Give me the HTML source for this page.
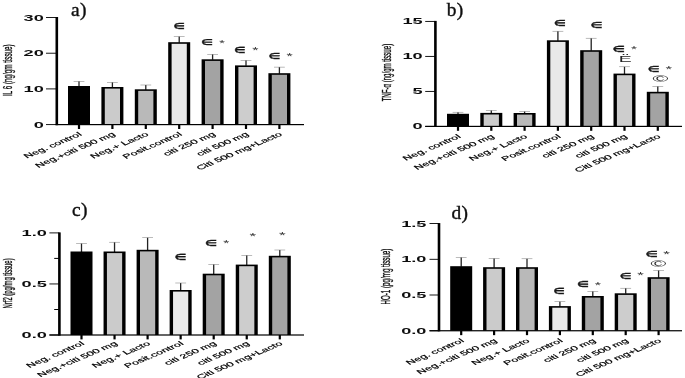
<!DOCTYPE html>
<html lang="en"><head><meta charset="utf-8"><title>Figure</title>
<style>html,body{margin:0;padding:0;background:#fff}svg{display:block}.tk{font-family:"Liberation Sans", "DejaVu Sans", sans-serif;font-weight:700;font-size:8.2px;fill:#111}.xl{font-family:"Liberation Sans", "DejaVu Sans", sans-serif;font-size:7px;fill:#000;stroke:#000;stroke-width:0.2px}.yt{font-family:"Liberation Sans", "DejaVu Sans", sans-serif;font-size:6.2px;fill:#111;stroke:#111;stroke-width:0.18px}.pt{font-family:"Liberation Serif", serif;font-size:19.4px;fill:#111;stroke:#111;stroke-width:0.4px;letter-spacing:0.3px}.se{font-family:"DejaVu Sans", "Liberation Sans", sans-serif;font-weight:700;fill:#1a1a1a;stroke:#1a1a1a;stroke-width:0.3px}.sa{font-family:"Liberation Sans", "DejaVu Sans", sans-serif;fill:#333}.sc{font-family:"Liberation Sans", "DejaVu Sans", sans-serif;fill:#222}</style></head><body>
<svg width="685" height="378" viewBox="0 0 685 378">
<defs><filter id="soft" x="0" y="0" width="685" height="378" filterUnits="userSpaceOnUse"><feGaussianBlur stdDeviation="0.4"/></filter></defs>
<rect width="685" height="378" fill="#fff"/>
<g filter="url(#soft)">
<g>
<text class="pt" x="71.0" y="16.1">a)</text>
<rect x="78.35" y="81.30" width="1.3" height="5.20" fill="#222"/>
<rect x="73.60" y="81.05" width="10.8" height="0.5" fill="#777"/>
<rect x="68.00" y="86.00" width="22.00" height="38.60" fill="#000"/>
<rect x="77.90" y="124.60" width="2.2" height="4.4" fill="#000"/>
<rect x="111.75" y="82.30" width="1.3" height="5.20" fill="#222"/>
<rect x="107.00" y="82.05" width="10.8" height="0.5" fill="#777"/>
<rect x="101.40" y="87.00" width="22.00" height="37.60" fill="#000"/>
<rect x="104.80" y="88.60" width="15.20" height="36.00" fill="#cbcbcb"/>
<rect x="111.30" y="124.60" width="2.2" height="4.4" fill="#000"/>
<rect x="145.15" y="85.00" width="1.3" height="4.80" fill="#222"/>
<rect x="140.40" y="84.75" width="10.8" height="0.5" fill="#777"/>
<rect x="134.80" y="89.30" width="22.00" height="35.30" fill="#000"/>
<rect x="138.20" y="90.90" width="15.20" height="33.70" fill="#b9b9b9"/>
<rect x="144.70" y="124.60" width="2.2" height="4.4" fill="#000"/>
<rect x="178.55" y="36.50" width="1.3" height="6.20" fill="#222"/>
<rect x="173.80" y="36.25" width="10.8" height="0.5" fill="#777"/>
<rect x="168.20" y="42.20" width="22.00" height="82.40" fill="#000"/>
<rect x="171.60" y="43.80" width="15.20" height="80.80" fill="#e9e9e9"/>
<rect x="178.10" y="124.60" width="2.2" height="4.4" fill="#000"/>
<rect x="211.95" y="54.30" width="1.3" height="5.50" fill="#222"/>
<rect x="207.20" y="54.05" width="10.8" height="0.5" fill="#777"/>
<rect x="201.60" y="59.30" width="22.00" height="65.30" fill="#000"/>
<rect x="205.00" y="60.90" width="15.20" height="63.70" fill="#a3a3a3"/>
<rect x="211.50" y="124.60" width="2.2" height="4.4" fill="#000"/>
<rect x="245.35" y="60.30" width="1.3" height="5.60" fill="#222"/>
<rect x="240.60" y="60.05" width="10.8" height="0.5" fill="#777"/>
<rect x="235.00" y="65.40" width="22.00" height="59.20" fill="#000"/>
<rect x="238.40" y="67.00" width="15.20" height="57.60" fill="#cdcdcd"/>
<rect x="244.90" y="124.60" width="2.2" height="4.4" fill="#000"/>
<rect x="278.75" y="67.10" width="1.3" height="6.60" fill="#222"/>
<rect x="274.00" y="66.85" width="10.8" height="0.5" fill="#777"/>
<rect x="268.40" y="73.20" width="22.00" height="51.40" fill="#000"/>
<rect x="271.80" y="74.80" width="15.20" height="49.80" fill="#a3a3a3"/>
<rect x="278.30" y="124.60" width="2.2" height="4.4" fill="#000"/>
<rect x="55.50" y="17.00" width="2.6" height="108.20" fill="#000"/>
<rect x="55.50" y="124.00" width="248.50" height="1.2" fill="#000"/>
<rect x="46.00" y="124.15" width="10.80" height="0.9" fill="#000"/>
<text class="tk" text-anchor="end" transform="translate(43.80 125.00) scale(2.22 1)" y="2.75">0</text>
<rect x="46.00" y="88.45" width="10.80" height="0.9" fill="#000"/>
<text class="tk" text-anchor="end" transform="translate(43.80 89.30) scale(2.22 1)" y="2.75">10</text>
<rect x="46.00" y="52.75" width="10.80" height="0.9" fill="#000"/>
<text class="tk" text-anchor="end" transform="translate(43.80 53.60) scale(2.22 1)" y="2.75">20</text>
<rect x="46.00" y="17.05" width="10.80" height="0.9" fill="#000"/>
<text class="tk" text-anchor="end" transform="translate(43.80 17.90) scale(2.22 1)" y="2.75">30</text>
<text class="yt" text-anchor="middle" transform="translate(7.60 70.20) scale(2.0 1) rotate(-90)" textLength="51.5" lengthAdjust="spacingAndGlyphs" y="2.2">IL 6 (ng/gm tissue)</text>
<text class="xl" text-anchor="end" transform="matrix(1.474 -0.623 0.913 0.688 82.60 135.10)">Neg. control</text>
<text class="xl" text-anchor="end" transform="matrix(1.474 -0.623 0.913 0.688 116.00 135.10)">Neg.+citi 500 mg</text>
<text class="xl" text-anchor="end" transform="matrix(1.474 -0.623 0.913 0.688 149.40 135.10)">Neg.+ Lacto</text>
<text class="xl" text-anchor="end" transform="matrix(1.474 -0.623 0.913 0.688 182.80 135.10)">Posit.control</text>
<text class="xl" text-anchor="end" transform="matrix(1.474 -0.623 0.913 0.688 216.20 135.10)">citi 250 mg</text>
<text class="xl" text-anchor="end" transform="matrix(1.474 -0.623 0.913 0.688 249.60 135.10)">citi 500 mg</text>
<text class="xl" text-anchor="end" transform="matrix(1.474 -0.623 0.913 0.688 283.00 135.10)">Citi 500 mg+Lacto</text>
<text class="se" font-size="8.33" transform="translate(173.17 28.88) scale(1.534 1)">∈</text>
<text class="se" font-size="7.92" transform="translate(200.84 45.28) scale(1.664 1)">∈</text>
<text class="sa" font-size="9.97" transform="translate(219.37 45.56) scale(1.457 1)">*</text>
<text class="se" font-size="8.74" transform="translate(234.27 53.48) scale(1.462 1)">∈</text>
<text class="sa" font-size="8.83" transform="translate(252.24 53.38) scale(1.834 1)">*</text>
<text class="se" font-size="8.47" transform="translate(268.54 59.38) scale(1.556 1)">∈</text>
<text class="sa" font-size="9.12" transform="translate(286.44 59.37) scale(1.777 1)">*</text>
</g>
<g>
<text class="pt" x="446.8" y="16.2">b)</text>
<rect x="457.35" y="112.20" width="1.3" height="2.10" fill="#222"/>
<rect x="452.60" y="111.95" width="10.8" height="0.5" fill="#777"/>
<rect x="447.00" y="113.80" width="22.00" height="12.60" fill="#000"/>
<rect x="456.90" y="126.40" width="2.2" height="4.4" fill="#000"/>
<rect x="490.65" y="110.40" width="1.3" height="3.00" fill="#222"/>
<rect x="485.90" y="110.15" width="10.8" height="0.5" fill="#777"/>
<rect x="480.30" y="112.90" width="22.00" height="13.50" fill="#000"/>
<rect x="483.70" y="114.50" width="15.20" height="11.90" fill="#cbcbcb"/>
<rect x="490.20" y="126.40" width="2.2" height="4.4" fill="#000"/>
<rect x="523.95" y="111.50" width="1.3" height="2.00" fill="#222"/>
<rect x="519.20" y="111.25" width="10.8" height="0.5" fill="#777"/>
<rect x="513.60" y="113.00" width="22.00" height="13.40" fill="#000"/>
<rect x="517.00" y="114.60" width="15.20" height="11.80" fill="#b9b9b9"/>
<rect x="523.50" y="126.40" width="2.2" height="4.4" fill="#000"/>
<rect x="557.25" y="31.20" width="1.3" height="9.60" fill="#222"/>
<rect x="552.50" y="30.95" width="10.8" height="0.5" fill="#777"/>
<rect x="546.90" y="40.30" width="22.00" height="86.10" fill="#000"/>
<rect x="550.30" y="41.90" width="15.20" height="84.50" fill="#e9e9e9"/>
<rect x="556.80" y="126.40" width="2.2" height="4.4" fill="#000"/>
<rect x="590.55" y="38.20" width="1.3" height="12.50" fill="#222"/>
<rect x="585.80" y="37.95" width="10.8" height="0.5" fill="#777"/>
<rect x="580.20" y="50.20" width="22.00" height="76.20" fill="#000"/>
<rect x="583.60" y="51.80" width="15.20" height="74.60" fill="#a3a3a3"/>
<rect x="590.10" y="126.40" width="2.2" height="4.4" fill="#000"/>
<rect x="623.85" y="66.80" width="1.3" height="7.30" fill="#222"/>
<rect x="619.10" y="66.55" width="10.8" height="0.5" fill="#777"/>
<rect x="613.50" y="73.60" width="22.00" height="52.80" fill="#000"/>
<rect x="616.90" y="75.20" width="15.20" height="51.20" fill="#cdcdcd"/>
<rect x="623.40" y="126.40" width="2.2" height="4.4" fill="#000"/>
<rect x="657.15" y="86.40" width="1.3" height="5.90" fill="#222"/>
<rect x="652.40" y="86.15" width="10.8" height="0.5" fill="#777"/>
<rect x="646.80" y="91.80" width="22.00" height="34.60" fill="#000"/>
<rect x="650.20" y="93.40" width="15.20" height="33.00" fill="#a3a3a3"/>
<rect x="656.70" y="126.40" width="2.2" height="4.4" fill="#000"/>
<rect x="434.10" y="20.90" width="2.6" height="106.10" fill="#000"/>
<rect x="425.20" y="125.80" width="256.80" height="1.2" fill="#000"/>
<rect x="425.20" y="125.95" width="10.20" height="0.9" fill="#000"/>
<text class="tk" text-anchor="end" transform="translate(422.70 126.70) scale(2.22 1)" y="2.75">0</text>
<rect x="425.20" y="90.95" width="10.20" height="0.9" fill="#000"/>
<text class="tk" text-anchor="end" transform="translate(422.70 91.70) scale(2.22 1)" y="2.75">5</text>
<rect x="425.20" y="55.95" width="10.20" height="0.9" fill="#000"/>
<text class="tk" text-anchor="end" transform="translate(422.70 56.70) scale(2.22 1)" y="2.75">10</text>
<rect x="425.20" y="20.95" width="10.20" height="0.9" fill="#000"/>
<text class="tk" text-anchor="end" transform="translate(422.70 21.70) scale(2.22 1)" y="2.75">15</text>
<text class="yt" text-anchor="middle" transform="translate(386.30 72.60) scale(2.0 1) rotate(-90)" textLength="57.5" lengthAdjust="spacingAndGlyphs" y="2.2">TNF-α (ng/gm tissue)</text>
<text class="xl" text-anchor="end" transform="matrix(1.474 -0.623 0.913 0.688 461.60 137.30)">Neg. control</text>
<text class="xl" text-anchor="end" transform="matrix(1.474 -0.623 0.913 0.688 494.90 137.30)">Neg.+citi 500 mg</text>
<text class="xl" text-anchor="end" transform="matrix(1.474 -0.623 0.913 0.688 528.20 137.30)">Neg.+ Lacto</text>
<text class="xl" text-anchor="end" transform="matrix(1.474 -0.623 0.913 0.688 561.50 137.30)">Posit.control</text>
<text class="xl" text-anchor="end" transform="matrix(1.474 -0.623 0.913 0.688 594.80 137.30)">citi 250 mg</text>
<text class="xl" text-anchor="end" transform="matrix(1.474 -0.623 0.913 0.688 628.10 137.30)">citi 500 mg</text>
<text class="xl" text-anchor="end" transform="matrix(1.474 -0.623 0.913 0.688 661.40 137.30)">Citi 500 mg+Lacto</text>
<text class="se" font-size="8.33" transform="translate(553.63 26.18) scale(1.598 1)">∈</text>
<text class="se" font-size="8.47" transform="translate(590.43 28.28) scale(1.572 1)">∈</text>
<text class="se" font-size="8.74" transform="translate(612.70 52.38) scale(1.569 1)">∈</text>
<text class="sa" font-size="9.40" transform="translate(631.05 52.27) scale(1.634 1)">*</text>
<text class="sc" font-size="9.80" transform="translate(618.81 62.20) scale(1.977 1)">Ë</text>
<text class="se" font-size="8.61" transform="translate(647.84 71.58) scale(1.532 1)">∈</text>
<text class="sa" font-size="9.40" transform="translate(665.43 71.57) scale(1.812 1)">*</text>
<text class="sc" font-size="9.49" transform="translate(652.38 81.92) scale(2.269 1)">©</text>
</g>
<g>
<text class="pt" x="72.0" y="215.6">c)</text>
<rect x="80.85" y="243.50" width="1.3" height="8.50" fill="#222"/>
<rect x="76.10" y="243.25" width="10.8" height="0.5" fill="#777"/>
<rect x="70.50" y="251.50" width="22.00" height="83.50" fill="#000"/>
<rect x="80.40" y="335.00" width="2.2" height="4.4" fill="#000"/>
<rect x="113.90" y="242.20" width="1.3" height="9.80" fill="#222"/>
<rect x="109.15" y="241.95" width="10.8" height="0.5" fill="#777"/>
<rect x="103.55" y="251.50" width="22.00" height="83.50" fill="#000"/>
<rect x="106.95" y="253.10" width="15.20" height="81.90" fill="#cbcbcb"/>
<rect x="113.45" y="335.00" width="2.2" height="4.4" fill="#000"/>
<rect x="146.95" y="237.70" width="1.3" height="12.60" fill="#222"/>
<rect x="142.20" y="237.45" width="10.8" height="0.5" fill="#777"/>
<rect x="136.60" y="249.80" width="22.00" height="85.20" fill="#000"/>
<rect x="140.00" y="251.40" width="15.20" height="83.60" fill="#b9b9b9"/>
<rect x="146.50" y="335.00" width="2.2" height="4.4" fill="#000"/>
<rect x="180.00" y="283.00" width="1.3" height="7.50" fill="#222"/>
<rect x="175.25" y="282.75" width="10.8" height="0.5" fill="#777"/>
<rect x="169.65" y="290.00" width="22.00" height="45.00" fill="#000"/>
<rect x="173.05" y="291.60" width="15.20" height="43.40" fill="#e9e9e9"/>
<rect x="179.55" y="335.00" width="2.2" height="4.4" fill="#000"/>
<rect x="213.05" y="264.40" width="1.3" height="9.80" fill="#222"/>
<rect x="208.30" y="264.15" width="10.8" height="0.5" fill="#777"/>
<rect x="202.70" y="273.70" width="22.00" height="61.30" fill="#000"/>
<rect x="206.10" y="275.30" width="15.20" height="59.70" fill="#a3a3a3"/>
<rect x="212.60" y="335.00" width="2.2" height="4.4" fill="#000"/>
<rect x="246.10" y="255.30" width="1.3" height="9.80" fill="#222"/>
<rect x="241.35" y="255.05" width="10.8" height="0.5" fill="#777"/>
<rect x="235.75" y="264.60" width="22.00" height="70.40" fill="#000"/>
<rect x="239.15" y="266.20" width="15.20" height="68.80" fill="#cdcdcd"/>
<rect x="245.65" y="335.00" width="2.2" height="4.4" fill="#000"/>
<rect x="279.15" y="250.00" width="1.3" height="6.30" fill="#222"/>
<rect x="274.40" y="249.75" width="10.8" height="0.5" fill="#777"/>
<rect x="268.80" y="255.80" width="22.00" height="79.20" fill="#000"/>
<rect x="272.20" y="257.40" width="15.20" height="77.60" fill="#a3a3a3"/>
<rect x="278.70" y="335.00" width="2.2" height="4.4" fill="#000"/>
<rect x="58.10" y="232.40" width="2.6" height="103.20" fill="#000"/>
<rect x="49.40" y="334.40" width="254.60" height="1.2" fill="#000"/>
<rect x="49.40" y="334.55" width="10.00" height="0.9" fill="#000"/>
<text class="tk" text-anchor="end" transform="translate(46.90 335.00) scale(2.22 1)" y="2.75">0.0</text>
<rect x="49.40" y="283.50" width="10.00" height="0.9" fill="#000"/>
<text class="tk" text-anchor="end" transform="translate(46.90 283.95) scale(2.22 1)" y="2.75">0.5</text>
<rect x="49.40" y="232.45" width="10.00" height="0.9" fill="#000"/>
<text class="tk" text-anchor="end" transform="translate(46.90 232.90) scale(2.22 1)" y="2.75">1.0</text>
<rect x="54.20" y="309.00" width="5.20" height="1.0" fill="#000"/>
<rect x="54.20" y="257.90" width="5.20" height="1.0" fill="#000"/>
<text class="yt" text-anchor="middle" transform="translate(7.20 283.40) scale(2.0 1) rotate(-90)" textLength="50.0" lengthAdjust="spacingAndGlyphs" y="2.2">Nrf2 (pg/mg tissue)</text>
<text class="xl" text-anchor="end" transform="matrix(1.474 -0.623 0.913 0.688 85.10 344.40)">Neg. control</text>
<text class="xl" text-anchor="end" transform="matrix(1.474 -0.623 0.913 0.688 118.15 344.40)">Neg.+citi 500 mg</text>
<text class="xl" text-anchor="end" transform="matrix(1.474 -0.623 0.913 0.688 151.20 344.40)">Neg.+ Lacto</text>
<text class="xl" text-anchor="end" transform="matrix(1.474 -0.623 0.913 0.688 184.25 344.40)">Posit.control</text>
<text class="xl" text-anchor="end" transform="matrix(1.474 -0.623 0.913 0.688 217.30 344.40)">citi 250 mg</text>
<text class="xl" text-anchor="end" transform="matrix(1.474 -0.623 0.913 0.688 250.35 344.40)">citi 500 mg</text>
<text class="xl" text-anchor="end" transform="matrix(1.474 -0.623 0.913 0.688 283.40 344.40)">Citi 500 mg+Lacto</text>
<text class="se" font-size="8.74" transform="translate(174.84 259.58) scale(1.508 1)">∈</text>
<text class="se" font-size="8.47" transform="translate(205.02 246.38) scale(1.588 1)">∈</text>
<text class="sa" font-size="8.83" transform="translate(223.15 246.08) scale(1.771 1)">*</text>
<text class="sa" font-size="9.12" transform="translate(249.52 238.87) scale(1.900 1)">*</text>
<text class="sa" font-size="8.83" transform="translate(279.02 237.78) scale(1.961 1)">*</text>
</g>
<g>
<text class="pt" x="451.5" y="219.4">d)</text>
<rect x="460.55" y="257.40" width="1.3" height="9.30" fill="#222"/>
<rect x="455.80" y="257.15" width="10.8" height="0.5" fill="#777"/>
<rect x="450.20" y="266.20" width="22.00" height="64.55" fill="#000"/>
<rect x="460.10" y="330.75" width="2.2" height="4.4" fill="#000"/>
<rect x="493.45" y="258.40" width="1.3" height="9.30" fill="#222"/>
<rect x="488.70" y="258.15" width="10.8" height="0.5" fill="#777"/>
<rect x="483.10" y="267.20" width="22.00" height="63.55" fill="#000"/>
<rect x="486.50" y="268.80" width="15.20" height="61.95" fill="#cbcbcb"/>
<rect x="493.00" y="330.75" width="2.2" height="4.4" fill="#000"/>
<rect x="526.35" y="258.80" width="1.3" height="8.90" fill="#222"/>
<rect x="521.60" y="258.55" width="10.8" height="0.5" fill="#777"/>
<rect x="516.00" y="267.20" width="22.00" height="63.55" fill="#000"/>
<rect x="519.40" y="268.80" width="15.20" height="61.95" fill="#b9b9b9"/>
<rect x="525.90" y="330.75" width="2.2" height="4.4" fill="#000"/>
<rect x="559.25" y="301.60" width="1.3" height="5.00" fill="#222"/>
<rect x="554.50" y="301.35" width="10.8" height="0.5" fill="#777"/>
<rect x="548.90" y="306.10" width="22.00" height="24.65" fill="#000"/>
<rect x="552.30" y="307.70" width="15.20" height="23.05" fill="#e9e9e9"/>
<rect x="558.80" y="330.75" width="2.2" height="4.4" fill="#000"/>
<rect x="592.15" y="291.30" width="1.3" height="5.20" fill="#222"/>
<rect x="587.40" y="291.05" width="10.8" height="0.5" fill="#777"/>
<rect x="581.80" y="296.00" width="22.00" height="34.75" fill="#000"/>
<rect x="585.20" y="297.60" width="15.20" height="33.15" fill="#a3a3a3"/>
<rect x="591.70" y="330.75" width="2.2" height="4.4" fill="#000"/>
<rect x="625.05" y="288.20" width="1.3" height="5.60" fill="#222"/>
<rect x="620.30" y="287.95" width="10.8" height="0.5" fill="#777"/>
<rect x="614.70" y="293.30" width="22.00" height="37.45" fill="#000"/>
<rect x="618.10" y="294.90" width="15.20" height="35.85" fill="#cdcdcd"/>
<rect x="624.60" y="330.75" width="2.2" height="4.4" fill="#000"/>
<rect x="657.95" y="270.40" width="1.3" height="7.30" fill="#222"/>
<rect x="653.20" y="270.15" width="10.8" height="0.5" fill="#777"/>
<rect x="647.60" y="277.20" width="22.00" height="53.55" fill="#000"/>
<rect x="651.00" y="278.80" width="15.20" height="51.95" fill="#a3a3a3"/>
<rect x="657.50" y="330.75" width="2.2" height="4.4" fill="#000"/>
<rect x="437.70" y="223.05" width="2.6" height="108.30" fill="#000"/>
<rect x="429.50" y="330.15" width="252.50" height="1.2" fill="#000"/>
<rect x="429.50" y="330.30" width="9.50" height="0.9" fill="#000"/>
<text class="tk" text-anchor="end" transform="translate(426.50 331.10) scale(2.22 1)" y="2.75">0.0</text>
<rect x="429.50" y="294.55" width="9.50" height="0.9" fill="#000"/>
<text class="tk" text-anchor="end" transform="translate(426.50 295.35) scale(2.22 1)" y="2.75">0.5</text>
<rect x="429.50" y="258.85" width="9.50" height="0.9" fill="#000"/>
<text class="tk" text-anchor="end" transform="translate(426.50 259.65) scale(2.22 1)" y="2.75">1.0</text>
<rect x="429.50" y="223.10" width="9.50" height="0.9" fill="#000"/>
<text class="tk" text-anchor="end" transform="translate(426.50 223.90) scale(2.22 1)" y="2.75">1.5</text>
<text class="yt" text-anchor="middle" transform="translate(386.00 276.60) scale(2.0 1) rotate(-90)" textLength="56.0" lengthAdjust="spacingAndGlyphs" y="2.2">HO-1 (pg/mg tissue)</text>
<text class="xl" text-anchor="end" transform="matrix(1.474 -0.623 0.913 0.688 464.80 341.60)">Neg. control</text>
<text class="xl" text-anchor="end" transform="matrix(1.474 -0.623 0.913 0.688 497.70 341.60)">Neg.+citi 500 mg</text>
<text class="xl" text-anchor="end" transform="matrix(1.474 -0.623 0.913 0.688 530.60 341.60)">Neg.+ Lacto</text>
<text class="xl" text-anchor="end" transform="matrix(1.474 -0.623 0.913 0.688 563.50 341.60)">Posit.control</text>
<text class="xl" text-anchor="end" transform="matrix(1.474 -0.623 0.913 0.688 596.40 341.60)">citi 250 mg</text>
<text class="xl" text-anchor="end" transform="matrix(1.474 -0.623 0.913 0.688 629.30 341.60)">citi 500 mg</text>
<text class="xl" text-anchor="end" transform="matrix(1.474 -0.623 0.913 0.688 662.20 341.60)">Citi 500 mg+Lacto</text>
<text class="se" font-size="8.74" transform="translate(553.47 293.78) scale(1.462 1)">∈</text>
<text class="se" font-size="8.20" transform="translate(576.84 286.98) scale(1.608 1)">∈</text>
<text class="sa" font-size="9.97" transform="translate(594.74 287.66) scale(1.625 1)">*</text>
<text class="se" font-size="8.61" transform="translate(619.85 278.58) scale(1.516 1)">∈</text>
<text class="sa" font-size="9.12" transform="translate(637.23 278.37) scale(1.869 1)">*</text>
<text class="se" font-size="8.47" transform="translate(645.40 256.68) scale(1.619 1)">∈</text>
<text class="sa" font-size="9.69" transform="translate(663.32 256.96) scale(1.788 1)">*</text>
<text class="sc" font-size="9.21" transform="translate(650.58 266.83) scale(2.323 1)">©</text>
</g>
</g>
</svg></body></html>
